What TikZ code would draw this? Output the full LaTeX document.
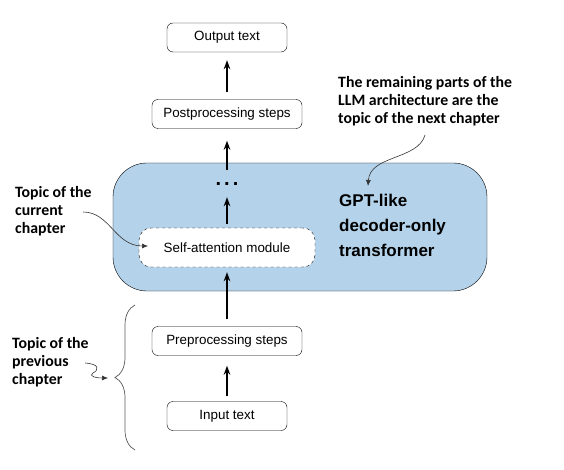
\documentclass[tikz,border=0pt]{standalone}
\usepackage{fontspec}
\setmainfont{Liberation Sans}
\newfontfamily\notefont{Carlito}
\usetikzlibrary{positioning, arrows.meta, decorations.pathreplacing}
\definecolor{gptblue}{HTML}{B4D3EA}
\tikzset{
  stepbox/.style={rectangle, draw, rounded corners=6pt, fill=white, inner sep=0pt,
    minimum height=29pt, font=\fontsize{13.4}{16}\selectfont},
  flow/.style={-{Stealth[length=9pt,width=6.5pt]}, line width=1.6pt},
  notetext/.style={anchor=north west, inner sep=0pt, align=left,
    font=\notefont\bfseries\fontsize{15.8}{18.3}\selectfont},
  pointer/.style={-{Latex[length=6pt,width=5pt]}, line width=0.6pt, black!80}
}

\begin{document}
\begin{tikzpicture}[x=1pt,y=-1pt]
    \useasboundingbox (0,0) rectangle (564,470);
    \node (gpt) at (300,227) [rectangle,draw,fill=gptblue,rounded corners=34pt,minimum width=374pt,minimum height=128pt] {};
    \node (gpttext) at (339,194) [anchor=north west,inner sep=0pt,align=left,font=\bfseries\fontsize{17}{25}\selectfont] {GPT-like\\decoder-only\\transformer};
    \node (output)  at (227,37.5)  [stepbox,minimum width=120pt] {Output text};
    \node (post)    at (227,114)   [stepbox,minimum width=150pt] {Postprocessing steps};
    \node (dots)    at (227,184)   [inner sep=0pt,minimum height=20pt,font=\bfseries\fontsize{20}{20}\selectfont] {.\hspace{3pt}.\hspace{3pt}.};
    \node (selfatt) at (227,247.5) [stepbox,dashed,rounded corners=12pt,minimum width=176pt,minimum height=39pt] {Self-attention module};
    \node (pre)     at (227,341)   [stepbox,minimum width=150pt] {Preprocessing steps};
    \node (input)   at (227,416)   [stepbox,minimum width=120pt] {Input text};
    \draw[flow,shorten <=5pt,shorten >=10pt] (input) -- (pre);
    \draw[flow,shorten <=7pt,shorten >=5pt]  (pre) -- (selfatt);
    \draw[flow,shorten <=4pt,shorten >=3pt]  (selfatt) -- (dots);
    \draw[flow,shorten <=4pt,shorten >=12pt] (dots) -- (post);
    \draw[flow,shorten <=7pt,shorten >=8pt]  (post) -- (output);
    % brace round the first steps
    \draw[decorate,decoration={brace,amplitude=20pt},line width=0.7pt,black!65] (135,450) -- (135,305);
    \coordinate (prevtip) at (108,378);
    \coordinate (curtip) at (148,246);
    \coordinate (nexttip) at (368,186);
    % notes
    \node (prevnote) at (12,337)  [notetext] {Topic of the\\previous\\chapter};
    \node (curnote)  at (15,186)  [notetext] {Topic of the\\current\\chapter};
    \node (nextnote) at (338,76)  [notetext] {The remaining parts of the\\LLM architecture are the\\topic of the next chapter};
    \draw[pointer] (85,363) .. controls (100,364) and (99,370) .. (93,373) .. controls (88,377) and (98,378) .. (prevtip);
    \draw[pointer] (83,212) .. controls (110,212) and (115,246) .. (curtip);
    \draw[pointer] (425,135) .. controls (418,160) and (370,155) .. (nexttip);
\end{tikzpicture}
\end{document}
